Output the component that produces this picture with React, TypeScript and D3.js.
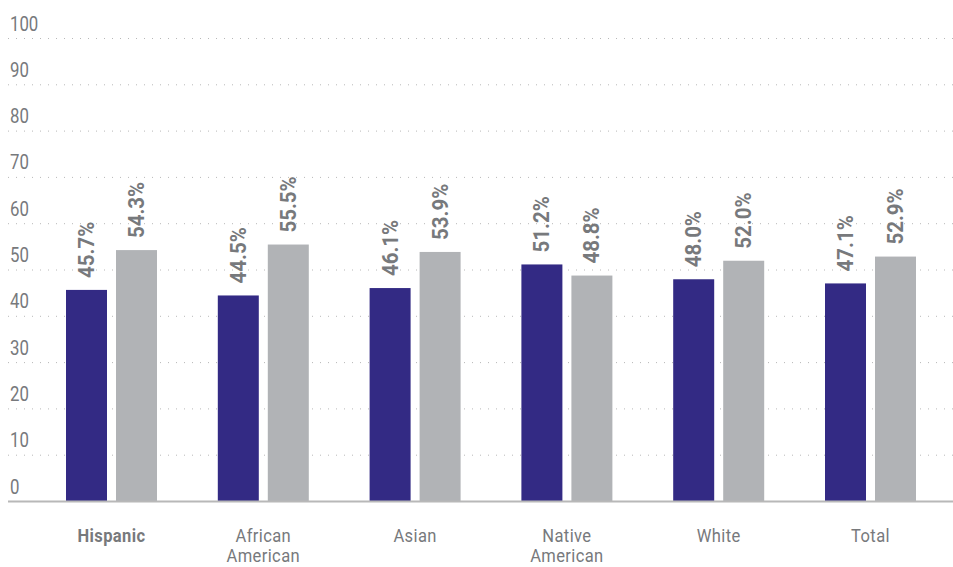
import React from "react";
import * as d3 from "d3";

const categories: string[][] = [["Hispanic"], ["African", "American"], ["Asian"], ["Native", "American"], ["White"], ["Total"]];
const seriesA: number[] = [45.7, 44.5, 46.1, 51.2, 48.0, 47.1];
const seriesB: number[] = [54.3, 55.5, 53.9, 48.8, 52.0, 52.9];
const yTicks: number[] = [0, 10, 20, 30, 40, 50, 60, 70, 80, 90, 100];

const W = 953;
const H = 567;
const FONT = "Roboto, 'DejaVu Sans Condensed', sans-serif";
const PURPLE = "#332a84";
const GRAY = "#b1b3b6";
const TEXT = "#77797c";

export default function App() {
  const y = d3.scaleLinear().domain([0, 100]).range([501.5, 38.5]);
  const x = d3
    .scaleBand<number>()
    .domain(d3.range(categories.length))
    .range([35.6, 946.4])
    .paddingInner(0)
    .paddingOuter(0);
  const barW = 41;
  const gap = 9;

  return (
    <svg width={W} height={H} style={{ position: "absolute", left: 0, top: 0 }} fontFamily={FONT}>
      <rect width={W} height={H} fill="#fff" />
      {yTicks.map((t) => (
        <g key={t}>
          {t > 0 && (
            <line x1={8} x2={W} y1={y(t)} y2={y(t)} stroke="#b8b8b8" strokeWidth={1} strokeDasharray="1 7" />
          )}
          <text transform={`translate(10,${y(t) - 8}) scale(0.8,1)`} fontSize={21} fill={TEXT}>
            {t}
          </text>
        </g>
      ))}
      {categories.map((c, i) => {
        const cx = (x(i) as number) + x.bandwidth() / 2;
        const xa = cx - gap / 2 - barW;
        const xb = cx + gap / 2;
        const vals = [seriesA[i], seriesB[i]];
        const xs = [xa, xb];
        const fills = [PURPLE, GRAY];
        return (
          <g key={i}>
            {vals.map((v, k) => (
              <g key={k}>
                <rect x={xs[k]} y={y(v)} width={barW} height={y(0) - y(v)} fill={fills[k]} />
                <text
                  transform={`translate(${xs[k] + barW / 2 + 7.5},${y(v) - 12}) rotate(-90) scale(0.93,1)`}
                  fontSize={22}
                  fontWeight={700}
                  fill={TEXT}
                  textAnchor="start"
                >
                  {v.toFixed(1) + "%"}
                </text>
              </g>
            ))}
            {c.map((line, li) => (
              <text
                key={li}
                transform={`translate(${cx},${542 + li * 20}) scale(0.92,1)`}
                textAnchor="middle"
                fontSize={18}
                fontWeight={i === 0 ? 700 : 400}
                fill={TEXT}
                letterSpacing={0.4}
              >
                {line}
              </text>
            ))}
          </g>
        );
      })}
      <line x1={8} x2={W} y1={y(0)} y2={y(0)} stroke="#b8b8b8" strokeWidth={2} />
    </svg>
  );
}
